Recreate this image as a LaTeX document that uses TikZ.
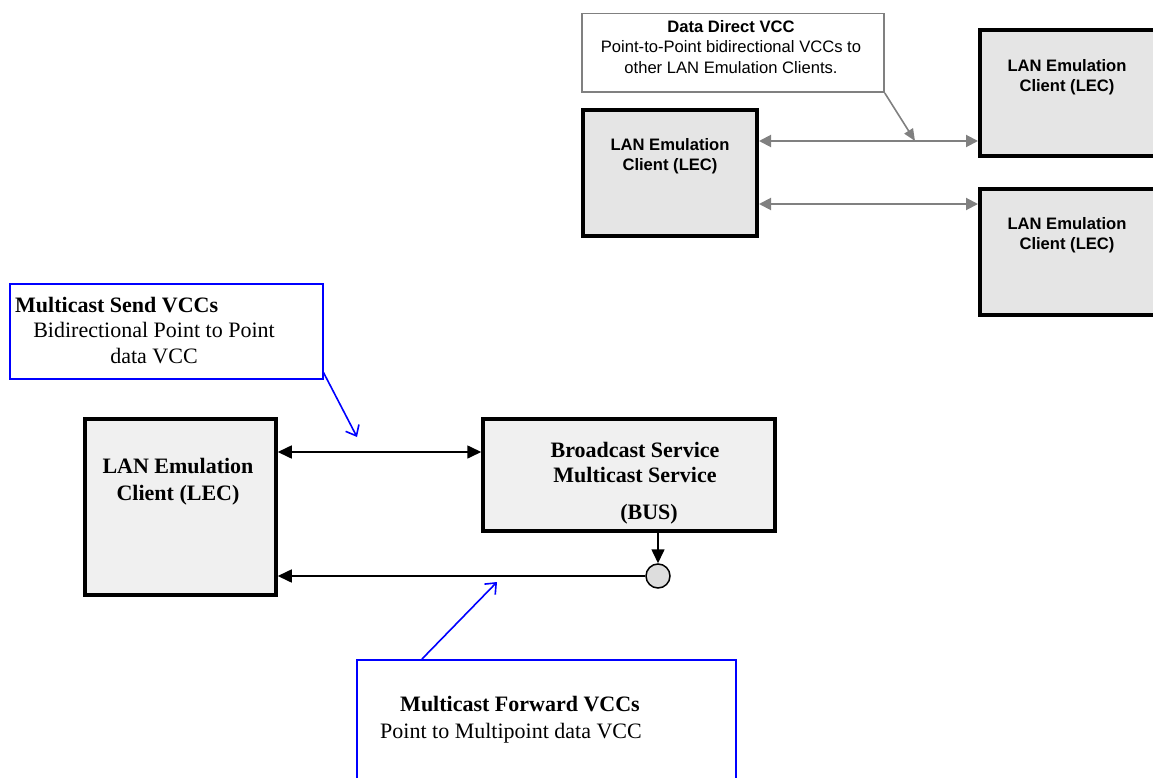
\documentclass[tikz,border=0pt]{standalone}
\usepackage{fontspec}
\setmainfont{Liberation Serif}
\newfontfamily\arialf{Liberation Sans}
\usetikzlibrary{arrows.meta}
\definecolor{lecgray}{RGB}{229,229,229}
\definecolor{lightfill}{RGB}{240,240,240}
\definecolor{callgray}{RGB}{128,128,128}
\definecolor{circfill}{RGB}{221,221,221}
\begin{document}
\begin{tikzpicture}[x=1pt,y=-1pt,
  topbox/.style={draw=black, line width=4pt, fill=lecgray, inner sep=0pt},
  botbox/.style={draw=black, line width=3.5pt, fill=lightfill, inner sep=0pt},
  sanstxt/.style={font=\arialf\fontsize{16.6}{20.5}\selectfont, align=center, inner sep=0pt},
  seriftxt/.style={font=\fontsize{22}{25.5}\selectfont, align=center, inner sep=0pt},
  grayarrow/.style={draw=callgray, line width=2pt, {Triangle[length=12pt,width=12pt]}-{Triangle[length=12pt,width=12pt]}},
  grayleader/.style={draw=callgray, line width=1.6pt, -{Triangle[length=12pt,width=10pt]}},
  blkline/.style={draw=black, line width=1.6pt},
  blktip/.style={-{Triangle[length=14pt,width=13pt]}},
  bluearrow/.style={draw=blue, line width=1.6pt, -{Straight Barb[length=9pt,width=15pt]}},
  bluebox/.style={draw=blue, line width=2pt, fill=white, inner sep=0pt}
]
\useasboundingbox (0,0) rectangle (1153,778);
\clip (0,0) rectangle (1153,778);

% ---------- top part ----------
\node[draw=callgray, line width=1.5pt, fill=white, inner sep=0pt,
      minimum width=302pt, minimum height=78.5pt] (dd) at (733,53) {};
\node[sanstxt] (ddt) at (731,47)
  {\textbf{Data Direct VCC}\\Point-to-Point bidirectional VCCs to\\other LAN Emulation Clients.};

\node[topbox, minimum width=174pt, minimum height=126pt] (lecA) at (670,173) {};
\node[sanstxt, font=\arialf\fontsize{16.6}{20}\selectfont\bfseries] (lecAt) at (670,156) {LAN Emulation\\Client (LEC)};

\node[topbox, minimum width=180pt, minimum height=126pt] (lecB) at (1070,93) {};
\node[sanstxt, font=\arialf\fontsize{16.6}{20}\selectfont\bfseries] (lecBt) at (1067,77) {LAN Emulation\\Client (LEC)};

\node[topbox, minimum width=180pt, minimum height=126pt] (lecC) at (1070,252) {};
\node[sanstxt, font=\arialf\fontsize{16.6}{20}\selectfont\bfseries] (lecCt) at (1067,235) {LAN Emulation\\Client (LEC)};

\coordinate (ya) at ([yshift=32pt]lecA.east);
\coordinate (yb) at ([yshift=-31pt]lecA.east);
\draw[grayarrow] (ya) -- (ya -| lecB.west);
\draw[grayarrow] (yb) -- (yb -| lecC.west);
\coordinate (ddtip) at (915,141);
\draw[grayleader] (dd.south east) -- (ddtip);

% ---------- bottom part ----------
\node[bluebox, minimum width=313pt, minimum height=95pt] (ms) at (166,331) {};
\node[seriftxt, anchor=west] (mst) at (15,305) {\textbf{Multicast Send VCCs}};
\node[seriftxt] (mst2) at (154,343) {Bidirectional Point to Point\\data VCC};

\node[botbox, minimum width=191pt, minimum height=176pt] (lecL) at (180.5,507) {};
\node[seriftxt, font=\fontsize{22}{27}\selectfont\bfseries] (lecLt) at (178,481.5) {LAN Emulation\\Client (LEC)};

\node[botbox, minimum width=292pt, minimum height=112pt] (bus) at (629,475) {};
\node[seriftxt, font=\fontsize{22}{25}\selectfont\bfseries] (bust) at (635,462.5) {Broadcast Service\\Multicast Service};
\node[seriftxt, font=\fontsize{22}{25}\selectfont\bfseries] (bust2) at (649,514) {(BUS)};

\node[circle, draw=black, line width=1.5pt, fill=circfill, minimum size=24pt, inner sep=0pt] (circ) at (658,576) {};

\coordinate (yl) at ([yshift=55pt]lecL.east);
\draw[blkline, {Triangle[length=14pt,width=13pt]}-{Triangle[length=14pt,width=13pt]}] (yl) -- (yl -| bus.west);
\draw[blkline, blktip] (bus.south -| circ.north) -- (circ.north);
\draw[blkline, blktip] (circ.west) -- (circ.west -| lecL.east);

\node[bluebox, anchor=north west, minimum width=379pt, minimum height=150pt] (mf) at (356,659) {};
\node[seriftxt] (mft) at (520,704) {\textbf{Multicast Forward VCCs}};
\node[seriftxt] (mft2) at (511,733) {Point to Multipoint data VCC};

\coordinate (mstip) at (357,437);
\coordinate (mftip) at (497,582);
\draw[bluearrow] ([yshift=7pt]ms.south east) -- (mstip);
\draw[bluearrow] ([xshift=66pt]mf.north west) -- (mftip);
\end{tikzpicture}
\end{document}
